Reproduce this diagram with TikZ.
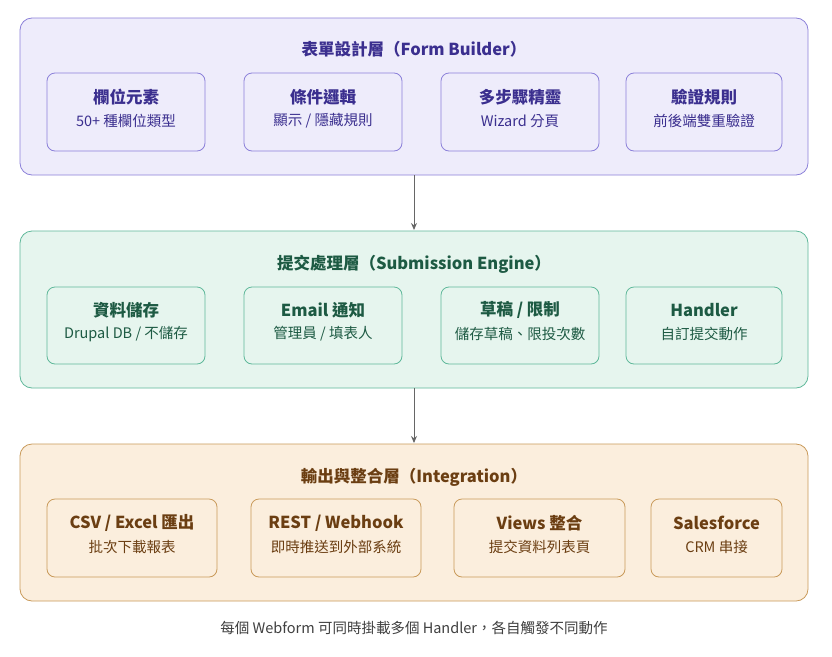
\documentclass[tikz,border=0pt]{standalone}
\usepackage{fontspec}
\setmainfont{Noto Sans CJK TC}
\usetikzlibrary{arrows.meta}
\definecolor{pf}{HTML}{EEECFB}\definecolor{ps}{HTML}{8B80D9}\definecolor{pt}{HTML}{3B2F8F}
\definecolor{gf}{HTML}{E6F5EE}\definecolor{gs}{HTML}{5FB89A}\definecolor{gt}{HTML}{1D5A43}
\definecolor{of}{HTML}{FBEEDD}\definecolor{os}{HTML}{C99A5A}\definecolor{ot}{HTML}{6B3E12}
\begin{document}
\begin{tikzpicture}[x=1pt,y=-1pt,
 layer/.style={draw=#1,rounded corners=12pt,line width=0.8pt},
 item/.style={draw=#1,rounded corners=8pt,line width=0.8pt},
 ttl/.style={font=\fontsize{16.5}{18}\selectfont\bfseries,text=#1},
 sub/.style={font=\fontsize{14.5}{16}\selectfont,text=#1},
 arr/.style={draw=black!60,line width=1pt,-{Stealth[length=7pt,width=6pt]}}]
\useasboundingbox (0,0) rectangle (832,656);
\fill[white] (0,0) rectangle (832,656);
% layer 1
\draw[layer=ps,fill=pf] (20,18) rectangle (808,175);
\node[ttl=pt] (t1) at (414,49) {表單設計層（Form Builder）};
\foreach \a/\b/\n/\s [count=\i] in {47/205/欄位元素/{50+ 種欄位類型},244/402/條件邏輯/{顯示 / 隱藏規則},441/599/多步驟精靈/{Wizard 分頁},626/782/驗證規則/前後端雙重驗證}{
 \draw[item=ps,fill=pf] (\a,73) rectangle (\b,151);
 \node[ttl=pt] (a\i) at ({(\a+\b)/2},97) {\n};
 \node[sub=pt] (as\i) at ({(\a+\b)/2},121) {\s};}
% layer 2
\draw[layer=gs,fill=gf] (20,231) rectangle (808,388);
\node[ttl=gt] (t2) at (414,264) {提交處理層（Submission Engine）};
\foreach \a/\b/\n/\s [count=\i] in {47/205/資料儲存/{Drupal DB / 不儲存},244/402/{Email 通知}/{管理員 / 填表人},441/599/{草稿 / 限制}/{儲存草稿、限投次數},626/782/Handler/自訂提交動作}{
 \draw[item=gs,fill=gf] (\a,287) rectangle (\b,364);
 \node[ttl=gt] (b\i) at ({(\a+\b)/2},310) {\n};
 \node[sub=gt] (bs\i) at ({(\a+\b)/2},334) {\s};}
% layer 3
\draw[layer=os,fill=of] (20,444) rectangle (808,601);
\node[ttl=ot] (t3) at (414,477) {輸出與整合層（Integration）};
\foreach \a/\b/\n/\s [count=\i] in {47/217/{CSV / Excel 匯出}/批次下載報表,251/421/{REST / Webhook}/即時推送到外部系統,454/625/{Views 整合}/提交資料列表頁,651/782/Salesforce/{CRM 串接}}{
 \draw[item=os,fill=of] (\a,499) rectangle (\b,577);
 \node[ttl=ot] (c\i) at ({(\a+\b)/2},523) {\n};
 \node[sub=ot] (cs\i) at ({(\a+\b)/2},547) {\s};}
\coordinate (l1b) at (414,175); \coordinate (l2t) at (414,230);
\coordinate (l2b) at (414,388); \coordinate (l3t) at (414,443);
\draw[arr] (l1b) -- (l2t);
\draw[arr] (l2b) -- (l3t);
\node[font=\fontsize{14.5}{16}\selectfont,text=black!75] (fn) at (414,628) {每個 Webform 可同時掛載多個 Handler，各自觸發不同動作};
\end{tikzpicture}
\end{document}
